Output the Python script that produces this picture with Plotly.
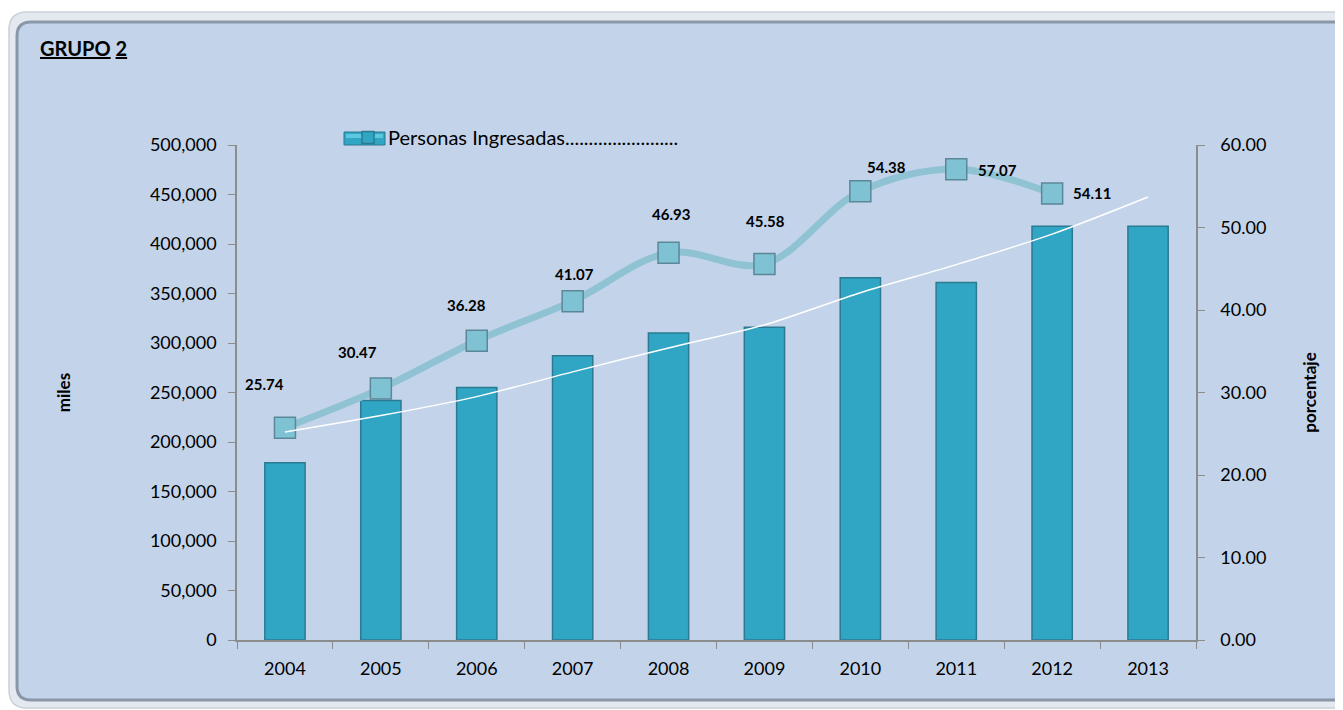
import plotly.graph_objects as go

# ---------------- data ----------------
years = ["2004", "2005", "2006", "2007", "2008", "2009", "2010", "2011", "2012", "2013"]
personas = [179000, 242000, 255000, 287000, 310000, 316000, 366000, 361000, 418000, 418000]
pct_years = ["2004", "2005", "2006", "2007", "2008", "2009", "2010", "2011", "2012"]
porcentaje = [25.74, 30.47, 36.28, 41.07, 46.93, 45.58, 54.38, 57.07, 54.11]
trend = [25.2, 27.2, 29.5, 32.5, 35.4, 38.2, 42.1, 45.5, 49.2, 53.7]
left_ticks = [0, 50000, 100000, 150000, 200000, 250000, 300000, 350000, 400000, 450000, 500000]
right_ticks = [0, 10, 20, 30, 40, 50, 60]

# label offsets (pixels) relative to each marker
label_dx = [-20, -23, -10, 2, 2, 1, 26, 41, 40]
label_dy = [44, 37, 36, 27, 39, 43, 24, -1, 1]

# ---------------- geometry ----------------
OFF = 8                      # page body margin of the browser
W, H = 1343 - OFF, 710 - OFF
L, R, T, B = 237, 1196, 145, 640   # plot area in reference pixels


def px(x):
    return (x - L) / (R - L)


def py(y):
    return (B - y) / (B - T)


def rounded_rect(x0, y0, x1, y1, r):
    X0, X1 = px(x0), px(x1)
    Y0, Y1 = py(y0), py(y1)
    rx = r / (R - L)
    ry = r / (B - T)
    return (f"M {X0 + rx} {Y0} L {X1 - rx} {Y0} Q {X1} {Y0} {X1} {Y0 - ry} "
            f"L {X1} {Y1 + ry} Q {X1} {Y1} {X1 - rx} {Y1} "
            f"L {X0 + rx} {Y1} Q {X0} {Y1} {X0} {Y1 + ry} "
            f"L {X0} {Y0 - ry} Q {X0} {Y0} {X0 + rx} {Y0} Z")


BAR_COLOR = "#31a5c4"
BAR_EDGE = "#2a7b91"

fig = go.Figure()

fig.add_trace(go.Bar(
    x=years, y=personas, name="Personas Ingresadas" + "." * 24,
    marker=dict(color=BAR_COLOR, line=dict(color=BAR_EDGE, width=1.5)),
    yaxis="y", hoverinfo="x+y",
))

fig.add_trace(go.Scatter(
    x=pct_years, y=porcentaje, yaxis="y2", mode="lines+markers",
    line=dict(color="#8fc3d3", width=7, shape="spline", smoothing=1.0),
    marker=dict(symbol="square", size=21, color="#7fc2d3",
                line=dict(color="#5a8898", width=1.5)),
    showlegend=False, name="porcentaje",
))

fig.add_trace(go.Scatter(
    x=years, y=trend, yaxis="y2", mode="lines",
    line=dict(color="#ffffff", width=1.5, shape="spline", smoothing=0.8),
    showlegend=False, hoverinfo="skip", name="tendencia",
))

annotations = []
for yr, v, dx, dy in zip(pct_years, porcentaje, label_dx, label_dy):
    annotations.append(dict(
        x=years.index(yr), y=v, xref="x", yref="y2", text=f"<b>{v:.2f}</b>",
        showarrow=False, xshift=dx, yshift=dy,
        font=dict(family="Lato", size=15, color="#000000"),
    ))

annotations.append(dict(
    x=px(38), y=py(48), xref="paper", yref="paper", xanchor="left", yanchor="middle",
    text="<b><u>GRUPO</u> <u>2</u></b>", showarrow=False,
    font=dict(family="Lato", size=20, color="#000000"),
))

shapes = [
    dict(type="path", path=rounded_rect(9, 12, 1360, 708, 18), xref="paper", yref="paper",
         fillcolor="#e4e9ef", line=dict(color="#c9d0d8", width=1.5), layer="below"),
    dict(type="path", path=rounded_rect(17, 22, 1360, 700, 14), xref="paper", yref="paper",
         fillcolor="#c3d4ea", line=dict(color="#8a97a8", width=3), layer="below"),
    # widened legend swatch (bar-like key, as in the reference)
    dict(type="rect", xref="paper", yref="paper",
         x0=px(344), x1=px(385), y0=py(145), y1=py(132),
         fillcolor=BAR_COLOR, line=dict(color=BAR_EDGE, width=1), layer="above"),
    dict(type="rect", xref="paper", yref="paper",
         x0=px(346), x1=px(383), y0=py(138), y1=py(134),
         fillcolor="#5cc8e0", line=dict(width=0), layer="above"),
]

axis_font = dict(family="Lato", size=18, color="#000000")

fig.update_layout(
    width=W, height=H,
    margin=dict(l=L - OFF, r=W - (R - OFF), t=T - OFF, b=H - (B - OFF), pad=0),
    paper_bgcolor="#ffffff",
    plot_bgcolor="rgba(0,0,0,0)",
    bargap=0.58,
    showlegend=True,
    legend=dict(x=px(348), y=py(118), xanchor="left", yanchor="top",
                bgcolor="rgba(0,0,0,0)", font=dict(family="Lato", size=20, color="#000000"),
                itemwidth=30, tracegroupgap=0),
    xaxis=dict(
        type="category", categoryorder="array", categoryarray=years,
        range=[-0.5, len(years) - 0.5], autorange=False,
        showline=True, linecolor="#8c8c8c", linewidth=1.5,
        ticks="outside", tickson="boundaries", ticklen=7, tickcolor="#8c8c8c",
        tickfont=axis_font, showgrid=False, zeroline=False,
        ticklabelstandoff=12, tickangle=0,
    ),
    yaxis=dict(
        range=[0, 500000], tickvals=left_ticks, tickformat=",d",
        showline=True, linecolor="#8c8c8c", linewidth=1.5,
        ticks="outside", ticklen=7, tickcolor="#8c8c8c",
        tickfont=axis_font, showgrid=False, zeroline=False,
        ticklabelstandoff=8,
        title=dict(text="<b>miles</b>", standoff=75,
                   font=dict(family="Lato", size=17, color="#000000")),
    ),
    yaxis2=dict(
        range=[0, 60], tickvals=right_ticks, tickformat=".2f",
        overlaying="y", side="right",
        showline=True, linecolor="#8c8c8c", linewidth=1.5,
        ticks="outside", ticklen=7, tickcolor="#8c8c8c",
        tickfont=axis_font, showgrid=False, zeroline=False,
        ticklabelstandoff=12,
        title=dict(text="<b>porcentaje</b>", standoff=39,
                   font=dict(family="Lato", size=17, color="#000000")),
    ),
    annotations=annotations,
    shapes=shapes,
)

fig.write_html("out.html")
